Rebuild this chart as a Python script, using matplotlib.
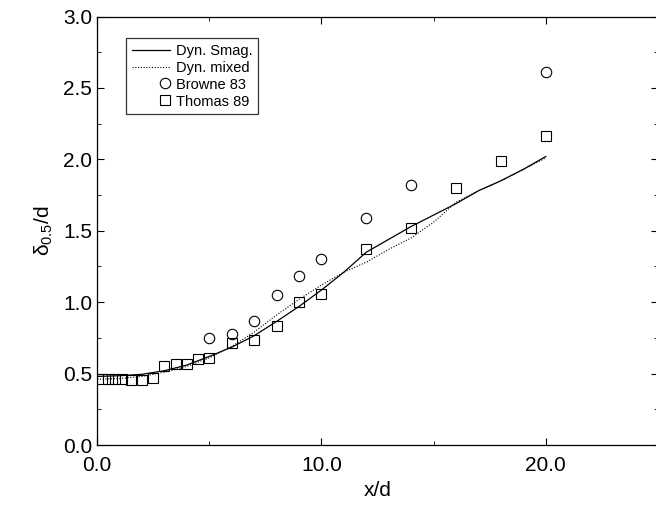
import numpy as np
import matplotlib
matplotlib.use('Agg')
import matplotlib.pyplot as plt
from matplotlib.legend_handler import HandlerLine2D
from matplotlib.ticker import MultipleLocator, FormatStrFormatter

plt.rcParams['font.family'] = ['Liberation Sans', 'DejaVu Sans']
plt.rcParams['mathtext.fontset'] = 'custom'
plt.rcParams['mathtext.rm'] = 'Liberation Sans'
plt.rcParams['mathtext.it'] = 'Liberation Sans'

# LES curves
x_les = [0, 1, 2, 3, 4, 5, 6, 7, 8, 9, 10, 11, 12, 13, 14, 15, 16, 17, 18, 19, 20]
smag = [0.48, 0.485, 0.495, 0.52, 0.56, 0.62, 0.685, 0.765, 0.865, 0.97, 1.085,
        1.21, 1.35, 1.44, 1.53, 1.61, 1.69, 1.78, 1.85, 1.93, 2.02]
mixed = [0.46, 0.465, 0.48, 0.51, 0.55, 0.61, 0.69, 0.79, 0.91, 1.02, 1.12,
         1.21, 1.28, 1.37, 1.45, 1.56, 1.70, 1.78, 1.85, 1.93, 2.01]

# experiments
x_browne = [5, 6, 7, 8, 9, 10, 12, 14, 20]
y_browne = [0.75, 0.78, 0.87, 1.05, 1.18, 1.30, 1.59, 1.82, 2.61]

x_thomas = [0.2, 0.5, 0.8, 1.1, 1.5, 2.0, 2.5, 3.0, 3.5, 4.0, 4.5, 5.0,
            6, 7, 8, 9, 10, 12, 14, 16, 18, 20]
y_thomas = [0.46, 0.46, 0.46, 0.46, 0.455, 0.455, 0.47, 0.55, 0.565, 0.565, 0.60, 0.61,
            0.716, 0.735, 0.833, 1.00, 1.055, 1.37, 1.52, 1.80, 1.99, 2.16]


class MarkerRight(HandlerLine2D):
    # marker sits just before the label, like in the original
    def get_xdata(self, legend, xdescent, ydescent, width, height, fontsize):
        m = -xdescent + width - 0.35 * fontsize
        return [m - 1, m + 1], [m]


fig = plt.figure(figsize=(6.56, 5.08), dpi=100)
ax = fig.add_axes([0.148, 0.124, 0.855, 0.8435])

ax.plot(x_les, smag, '-', color='black', lw=0.9, label='Dyn. Smag.')
ax.plot(x_les, mixed, color='black', lw=0.8, ls=(0, (1, 1.5)), label='Dyn. mixed')
ax.plot(x_browne, y_browne, 'o', mfc='none', mec='black', ms=7.5, mew=0.8,
        label='Browne 83')
ax.plot(x_thomas, y_thomas, 's', mfc='none', mec='black', ms=7, mew=0.8,
        label='Thomas 89')

ax.set_xlim(0, 25)
ax.set_ylim(0, 3)
ax.xaxis.set_major_locator(MultipleLocator(10))
ax.xaxis.set_minor_locator(MultipleLocator(5))
ax.yaxis.set_major_locator(MultipleLocator(0.5))
ax.yaxis.set_minor_locator(MultipleLocator(0.25))
ax.xaxis.set_major_formatter(FormatStrFormatter('%.1f'))
ax.yaxis.set_major_formatter(FormatStrFormatter('%.1f'))
ax.tick_params(which='both', direction='in', top=True, right=True, labelsize=15)
ax.tick_params(which='major', length=5, width=0.8)
ax.tick_params(which='minor', length=3, width=0.6)
ax.tick_params(axis='x', pad=8)
for s in ax.spines.values():
    s.set_linewidth(0.9)

ax.set_xlabel('x/d', fontsize=15, labelpad=4)
ax.set_ylabel(r'δ$_{0.5}$/d', fontsize=15, labelpad=6)

h1 = ax.lines
leg = ax.legend(loc='upper left', bbox_to_anchor=(0.052, 0.95), borderaxespad=0,
                fontsize=10.5, frameon=True, fancybox=False, edgecolor='black',
                numpoints=1, handlelength=2.6, handletextpad=0.4, labelspacing=0.2,
                borderpad=0.4, handler_map={h: MarkerRight() for h in h1[2:]})
leg.get_frame().set_linewidth(0.9)

fig.savefig('out.png', dpi=100)
